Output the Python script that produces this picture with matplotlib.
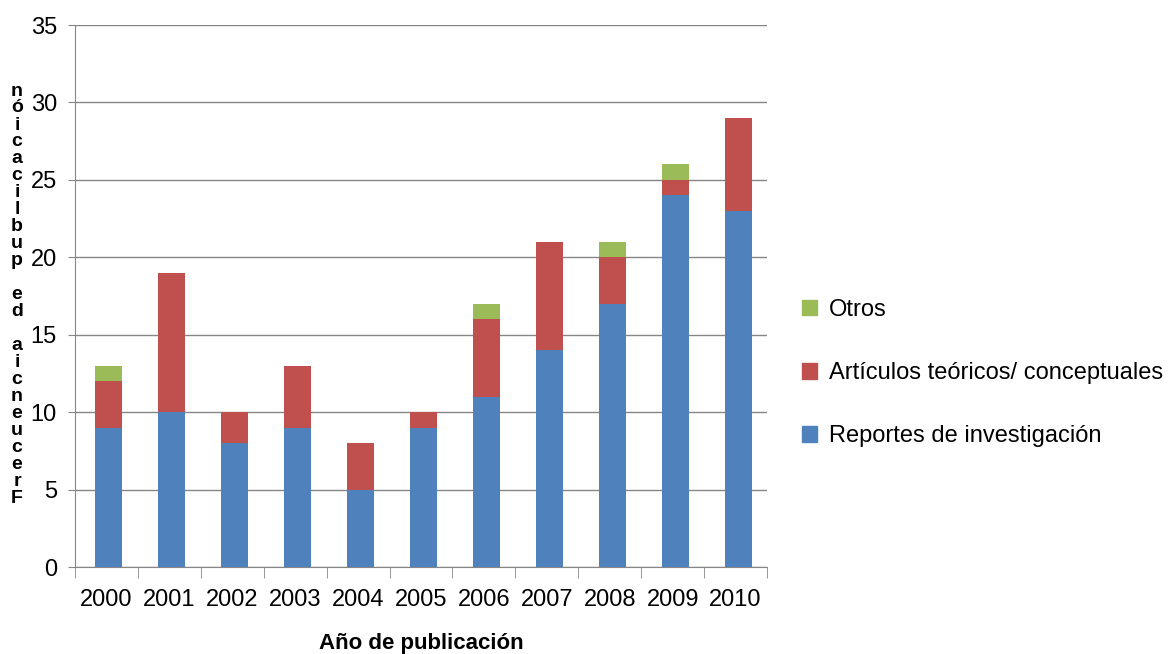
import numpy as np
import matplotlib.pyplot as plt
from matplotlib.patches import Patch

years = ['2000', '2001', '2002', '2003', '2004', '2005', '2006', '2007', '2008', '2009', '2010']
reportes = [9, 10, 8, 9, 5, 9, 11, 14, 17, 24, 23]
articulos = [3, 9, 2, 4, 3, 1, 5, 7, 3, 1, 6]
otros = [1, 0, 0, 0, 0, 0, 1, 0, 1, 1, 0]

c_rep = '#4F81BD'
c_art = '#C0504D'
c_otr = '#9BBB59'
grid_c = '#868686'

plt.rcParams['font.family'] = ['Liberation Sans Narrow', 'Liberation Sans', 'DejaVu Sans']

fig = plt.figure(figsize=(11.68, 6.54), dpi=100)
ax = fig.add_axes([75/1168, 87/654, 692/1168, 542/654])

x = np.arange(len(years))
rep = np.array(reportes)
art = np.array(articulos)
otr = np.array(otros)
w = 0.43
ax.bar(x + 0.04, rep, w, color=c_rep, zorder=3)
ax.bar(x + 0.04, art, w, bottom=rep, color=c_art, zorder=3)
ax.bar(x + 0.04, otr, w, bottom=rep + art, color=c_otr, zorder=3)

ax.set_xlim(-0.5, len(years) - 0.5)
ax.set_ylim(0, 35)
ax.set_yticks(np.arange(0, 36, 5))
ax.yaxis.grid(True, color=grid_c, linewidth=1)
ax.set_axisbelow(True)
for s in ['top', 'right']:
    ax.spines[s].set_visible(False)
ax.spines['left'].set_color(grid_c)
ax.spines['bottom'].set_color(grid_c)
ax.tick_params(axis='y', length=5, color=grid_c, labelsize=17, pad=8)

ax.set_xticks(x)
ax.set_xticklabels(years)
ax.set_xticks(np.arange(-0.5, len(years), 1), minor=True)
ax.tick_params(axis='x', which='major', length=0, labelsize=17, pad=16)
ax.tick_params(axis='x', which='minor', length=8, color=grid_c)

ax.set_xlabel('Año de publicación', fontsize=16, fontweight='bold', labelpad=16)

# stacked vertical y label (as rendered in the original)
ylab = 'Frecuencia de publicación'
fig.text(17/1168, 1 - 295/654, '\n'.join(reversed(ylab)), fontsize=14, fontweight='bold',
         ha='center', va='center', linespacing=1.0)

handles = [Patch(color=c_otr), Patch(color=c_art), Patch(color=c_rep)]
labels = ['Otros', 'Artículos teóricos/ conceptuales', 'Reportes de investigación']
fig.legend(handles, labels, loc='center left', bbox_to_anchor=(790/1168, 1 - 373/654),
           frameon=False, fontsize=17, handlelength=0.65, handleheight=0.65,
           handletextpad=0.5, labelspacing=1.75, borderpad=0)

fig.savefig('out.png', dpi=100)
